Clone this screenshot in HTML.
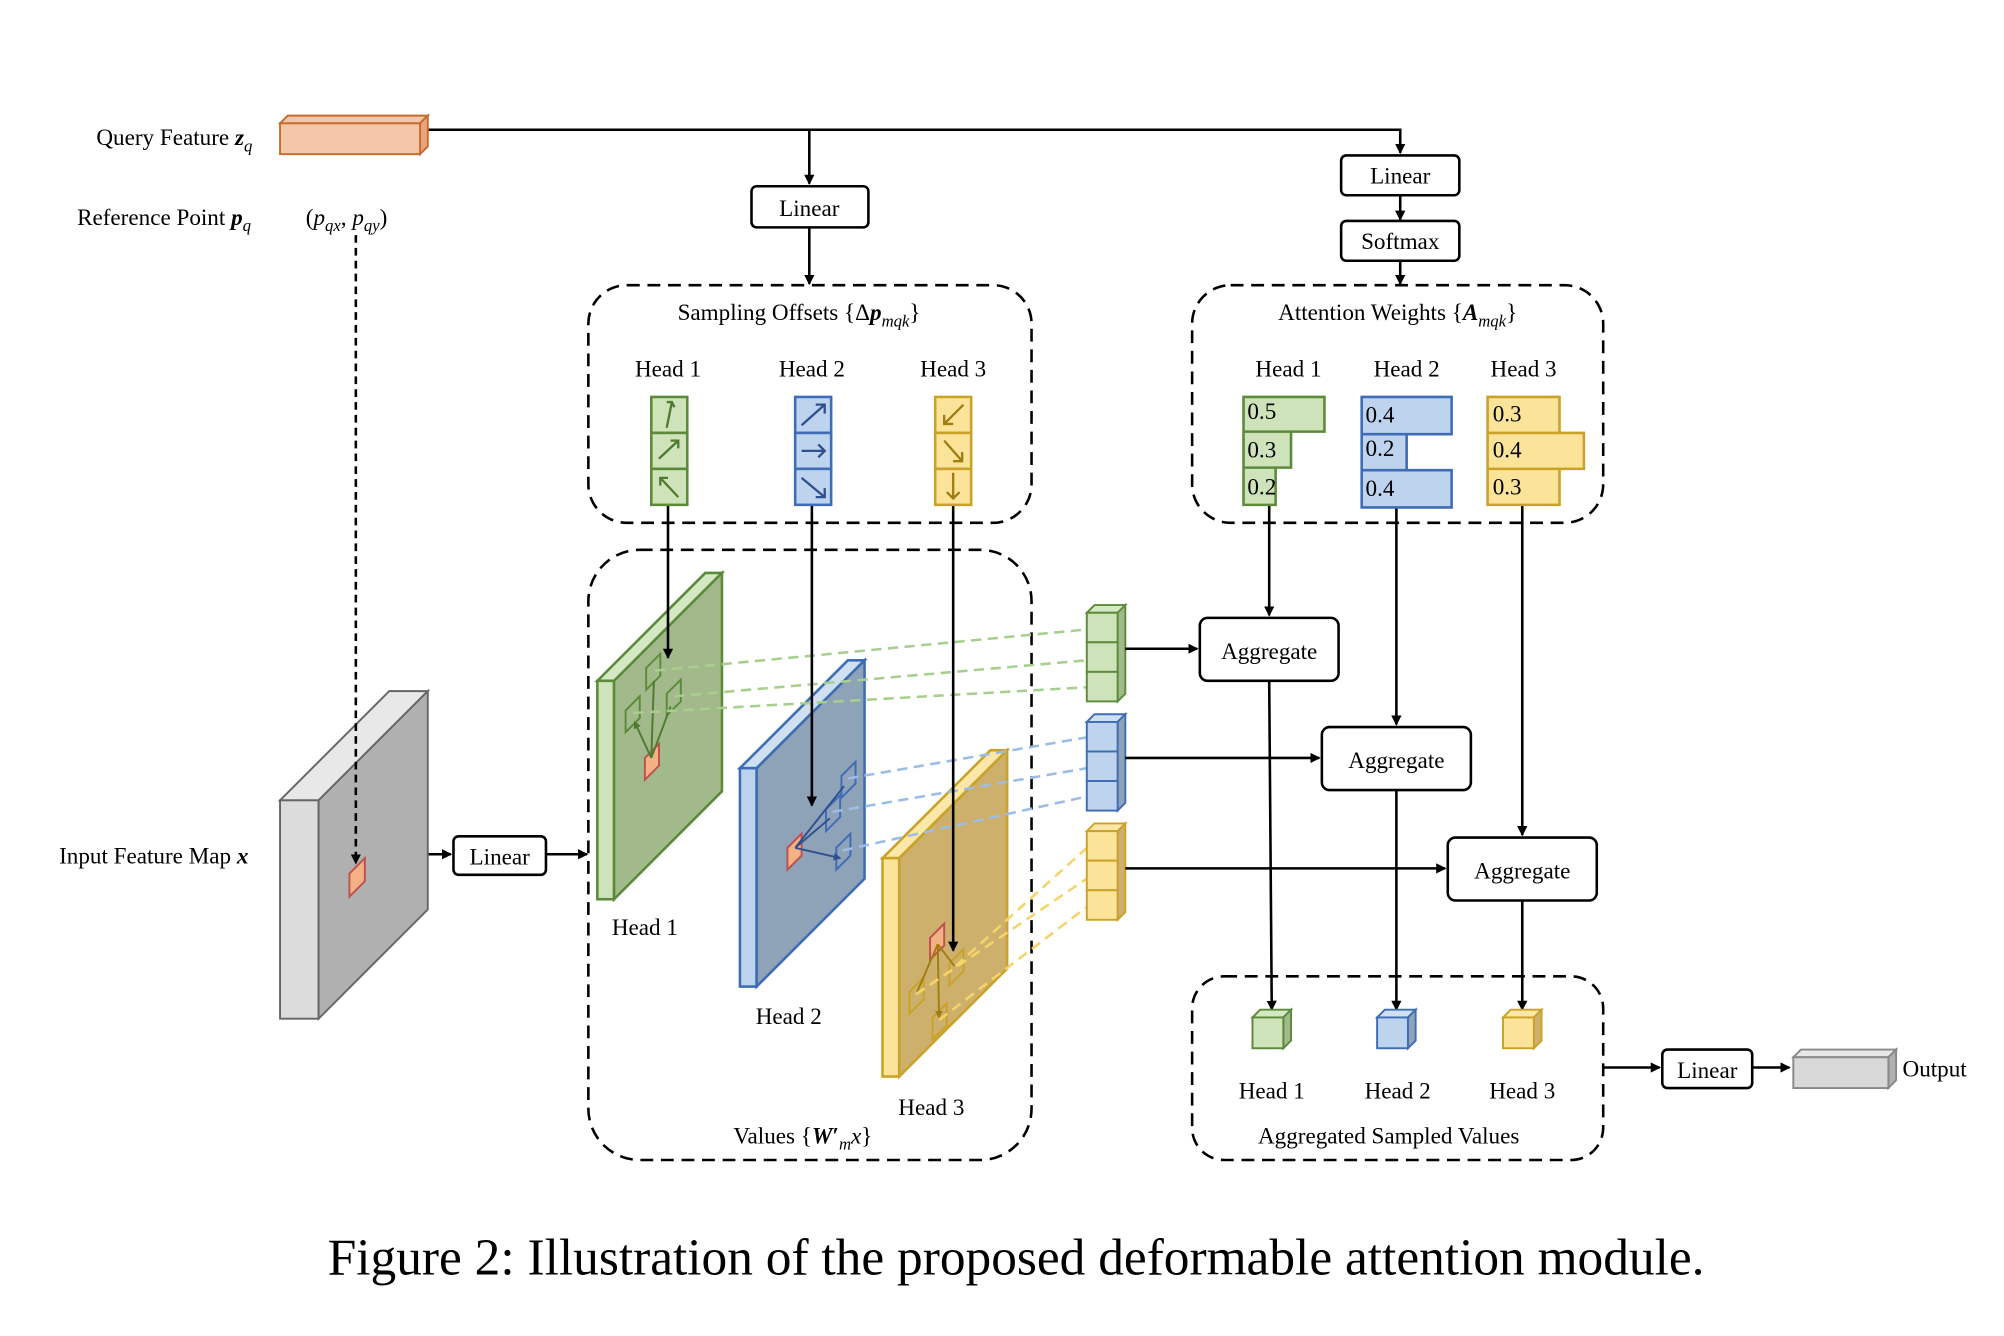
<!DOCTYPE html>
<html><head><meta charset="utf-8"><style>
html,body{margin:0;padding:0;background:#fff;}
svg{display:block;}
text{font-family:"Liberation Serif",serif;font-size:18px;fill:#000;}
</style></head><body>
<svg width="2004" height="1336" viewBox="0 0 1560 1040" xmlns="http://www.w3.org/2000/svg">
<defs>
<marker id="a" markerWidth="8" markerHeight="8" refX="7" refY="4" orient="auto" markerUnits="userSpaceOnUse"><path d="M0,0 L8,4 L0,8 z" fill="#000"/></marker>
<marker id="g" markerWidth="6" markerHeight="6" refX="5" refY="3" orient="auto" markerUnits="userSpaceOnUse"><path d="M0,0 L6,3 L0,6 z" fill="#4f7a30"/></marker>
<marker id="b" markerWidth="6" markerHeight="6" refX="5" refY="3" orient="auto" markerUnits="userSpaceOnUse"><path d="M0,0 L6,3 L0,6 z" fill="#2f4f8f"/></marker>
<marker id="y" markerWidth="6" markerHeight="6" refX="5" refY="3" orient="auto" markerUnits="userSpaceOnUse"><path d="M0,0 L6,3 L0,6 z" fill="#a07d10"/></marker>
</defs>
<g stroke="#000" stroke-width="2" fill="none">
<path d="M333,101 H1090 V119" marker-end="url(#a)"/>
<path d="M630,101 V143" marker-end="url(#a)"/>
<path d="M630,177 V221" marker-end="url(#a)"/>
<path d="M1090,152 V171" marker-end="url(#a)"/>
<path d="M1090,203 V221" marker-end="url(#a)"/>
<rect x="458" y="222" width="345" height="185" rx="30" stroke-dasharray="10,6"/>
<rect x="928" y="222" width="320" height="185" rx="30" stroke-dasharray="10,6"/>
<rect x="458" y="428" width="345" height="475" rx="40" stroke-dasharray="10,6"/>
<rect x="928" y="760" width="320" height="143" rx="25" stroke-dasharray="10,6"/>
<rect x="585" y="145" width="91" height="32" rx="4"/>
<rect x="1044" y="121" width="92" height="31" rx="4"/>
<rect x="1044" y="172" width="92" height="31" rx="4"/>
<rect x="353" y="651" width="72" height="30" rx="4"/>
<rect x="934" y="481" width="108" height="49" rx="6"/>
<rect x="1029" y="566" width="116" height="49" rx="6"/>
<rect x="1127" y="652" width="116" height="49" rx="6"/>
<rect x="1294" y="817" width="70" height="30" rx="4"/>
<path d="M302,665 H351" marker-end="url(#a)"/>
<path d="M425,665 H457" marker-end="url(#a)"/>
<path d="M1248,831 H1292" marker-end="url(#a)"/>
<path d="M1364,831 H1393" marker-end="url(#a)"/>
</g>
<polygon points="218,96 224,90 333,90 327,96" fill="#f4c7a8" stroke="#c96a2e" stroke-width="1.5"/>
<polygon points="327,96 333,90 333,114 327,120" fill="#e9a57f" stroke="#c96a2e" stroke-width="1.5"/>
<rect x="218" y="96" width="109" height="24" fill="#f4c7a8" stroke="#c96a2e" stroke-width="1.5"/>
<polygon points="218,623 303,538 333,538 248,623" fill="#e8e8e8" stroke="#666" stroke-width="1.5"/>
<rect x="218" y="623" width="30" height="170" fill="#dcdcdc" stroke="#666" stroke-width="1.5"/>
<polygon points="248,623 333,538 333,708 248,793" fill="#b0b0b0" stroke="#666" stroke-width="1.5"/>
<polygon points="272,680 284,668 284,686 272,698" fill="#f4b183" stroke="#c0504d" stroke-width="1.5"/>
<path d="M277,183 V672" stroke="#000" stroke-width="2" fill="none" stroke-dasharray="6,4" marker-end="url(#a)"/>
<g stroke-width="2">
<polygon points="465,530 549,446 562,446 478,530" fill="#d5e8c4" stroke="#5c8a3a"/>
<rect x="465" y="530" width="13" height="170" fill="#cfe3bb" stroke="#5c8a3a"/>
<polygon points="478,530 562,446 562,616 478,700" fill="#a2b98c" stroke="#5c8a3a"/>
<polygon points="576,598 660,514 673,514 589,598" fill="#cfe0f3" stroke="#3e6db5"/>
<rect x="576" y="598" width="13" height="170" fill="#bdd3ee" stroke="#3e6db5"/>
<polygon points="589,598 673,514 673,684 589,768" fill="#8ea2b8" stroke="#3e6db5"/>
<polygon points="687,668 771,584 784,584 700,668" fill="#fbe7a8" stroke="#c9a227"/>
<rect x="687" y="668" width="13" height="170" fill="#fbe39a" stroke="#c9a227"/>
<polygon points="700,668 784,584 784,754 700,838" fill="#cdb06c" stroke="#c9a227"/>
</g>
<g fill="none" stroke-width="1.5">
<polygon points="502,590 513,579 513,596 502,607" fill="#f4b183" stroke="#c0504d"/>
<polygon points="503,520 514,509 514,526 503,537" stroke="#5c8a3a"/>
<polygon points="519,540 530,529 530,546 519,557" stroke="#5c8a3a"/>
<polygon points="487,553 498,542 498,559 487,570" stroke="#5c8a3a"/>
<path d="M507,590 L509,530 M507,590 L522,550 M507,590 L494,562" stroke="#4f7a30" marker-end="url(#g)"/>
<polygon points="613,660 624,649 624,666 613,677" fill="#f4b183" stroke="#c0504d"/>
<polygon points="655,604 666,593 666,610 655,621" stroke="#3e6db5"/>
<polygon points="643,630 654,619 654,636 643,647" stroke="#3e6db5"/>
<polygon points="651,660 662,649 662,666 651,677" stroke="#3e6db5"/>
<path d="M619,660 L657,612 M619,660 L646,637 M619,660 L654,668" stroke="#2f4f8f" marker-end="url(#b)"/>
<polygon points="724,730 735,719 735,736 724,747" fill="#f4b183" stroke="#c0504d"/>
<polygon points="739,750 750,739 750,756 739,767" stroke="#c9a227"/>
<polygon points="708,772 719,761 719,778 708,789" stroke="#c9a227"/>
<polygon points="726,792 737,781 737,798 726,809" stroke="#c9a227"/>
<path d="M730,735 L743,752 M730,735 L714,772 M730,735 L731,792" stroke="#a07d10" marker-end="url(#y)"/>
</g>
<g stroke-width="2" stroke-dasharray="8,5">
<path d="M510,522 L846,490 M525,542 L846,514 M493,555 L846,535" stroke="#a9cf8e"/>
<path d="M660,606 L846,574 M648,632 L846,598 M656,662 L846,620" stroke="#9dbde6"/>
<path d="M744,752 L846,660 M713,774 L846,684 M731,794 L846,706" stroke="#f5d56a"/>
</g>
<g stroke-width="1.5">
<polygon points="846,477 852,471 876,471 870,477" fill="#d5e8c4" stroke="#5c8a3a"/>
<polygon points="870,477 876,471 876,540 870,546" fill="#a2b98c" stroke="#5c8a3a"/>
<rect x="846" y="477" width="24" height="23" fill="#cfe3bb" stroke="#5c8a3a"/><rect x="846" y="500" width="24" height="23" fill="#cfe3bb" stroke="#5c8a3a"/><rect x="846" y="523" width="24" height="23" fill="#cfe3bb" stroke="#5c8a3a"/>
<polygon points="846,562 852,556 876,556 870,562" fill="#cfe0f3" stroke="#3e6db5"/>
<polygon points="870,562 876,556 876,625 870,631" fill="#8ea2b8" stroke="#3e6db5"/>
<rect x="846" y="562" width="24" height="23" fill="#bdd3ee" stroke="#3e6db5"/><rect x="846" y="585" width="24" height="23" fill="#bdd3ee" stroke="#3e6db5"/><rect x="846" y="608" width="24" height="23" fill="#bdd3ee" stroke="#3e6db5"/>
<polygon points="846,647 852,641 876,641 870,647" fill="#fbe7a8" stroke="#c9a227"/>
<polygon points="870,647 876,641 876,710 870,716" fill="#cdb06c" stroke="#c9a227"/>
<rect x="846" y="647" width="24" height="23" fill="#fbe39a" stroke="#c9a227"/><rect x="846" y="670" width="24" height="23" fill="#fbe39a" stroke="#c9a227"/><rect x="846" y="693" width="24" height="23" fill="#fbe39a" stroke="#c9a227"/>
</g>
<g stroke="#000" stroke-width="2" fill="none">
<path d="M876,505 H932" marker-end="url(#a)"/>
<path d="M876,590 H1027" marker-end="url(#a)"/>
<path d="M876,676 H1125" marker-end="url(#a)"/>
<path d="M988,393 V479" marker-end="url(#a)"/>
<path d="M1087,395 V564" marker-end="url(#a)"/>
<path d="M1185,393 V650" marker-end="url(#a)"/>
<path d="M988,530 L990,786" marker-end="url(#a)"/>
<path d="M1087,615 V786" marker-end="url(#a)"/>
<path d="M1185,701 V786" marker-end="url(#a)"/>
<path d="M520,393 V512" marker-end="url(#a)"/>
<path d="M632,393 V627" marker-end="url(#a)"/>
<path d="M742,393 V740" marker-end="url(#a)"/>
</g>
<g stroke-width="2">
<rect x="507" y="309" width="28" height="28" fill="#cfe3bb" stroke="#5c8a3a"/><rect x="507" y="337" width="28" height="28" fill="#cfe3bb" stroke="#5c8a3a"/><rect x="507" y="365" width="28" height="28" fill="#cfe3bb" stroke="#5c8a3a"/>
<rect x="619" y="309" width="28" height="28" fill="#bdd3ee" stroke="#3e6db5"/><rect x="619" y="337" width="28" height="28" fill="#bdd3ee" stroke="#3e6db5"/><rect x="619" y="365" width="28" height="28" fill="#bdd3ee" stroke="#3e6db5"/>
<rect x="728" y="309" width="28" height="28" fill="#fbe39a" stroke="#c9a227"/><rect x="728" y="337" width="28" height="28" fill="#fbe39a" stroke="#c9a227"/><rect x="728" y="365" width="28" height="28" fill="#fbe39a" stroke="#c9a227"/>
</g>
<g stroke-width="1.8" fill="none">
<path d="M519,333 L523,313 M519,313 L523,313 L525,317 M513,357 L528,343 M522,343 L528,343 L528,349 M528,387 L514,372 M514,378 L514,372 L520,372" stroke="#4f7a30"/>
<path d="M624,331 L642,315 M635,315 L642,315 L642,322 M624,351 L642,351 M637,346 L642,351 L637,356 M624,372 L642,387 M635,387 L642,387 L642,380" stroke="#2f4f8f"/>
<path d="M750,315 L735,330 M735,323 L735,330 L742,330 M735,343 L749,359 M749,352 L749,359 L742,359 M742,368 L742,388 M737,383 L742,388 L747,383" stroke="#a07d10"/>
</g>
<g stroke-width="2">
<path d="M968,309 H1031 V336 H1005 V364 H993 V393 H968 Z" fill="#cfe3bb" stroke="#5c8a3a"/>
<path d="M968,336 H1005 M968,364 H993" stroke="#5c8a3a"/>
<path d="M1060,309 H1130 V338 H1095 V366 H1130 V395 H1060 Z" fill="#bdd3ee" stroke="#3e6db5"/>
<path d="M1060,338 H1095 M1060,366 H1095" stroke="#3e6db5"/>
<path d="M1158,309 H1214 V337 H1233 V365 H1214 V393 H1158 Z" fill="#fbe39a" stroke="#c9a227"/>
<path d="M1158,337 H1214 M1158,365 H1214" stroke="#c9a227"/>
</g>
<g style="font-size:14px">
<text x="971" y="326">0.5</text><text x="971" y="356">0.3</text><text x="971" y="385">0.2</text>
<text x="1063" y="329">0.4</text><text x="1063" y="355">0.2</text><text x="1063" y="386">0.4</text>
<text x="1162" y="328">0.3</text><text x="1162" y="356">0.4</text><text x="1162" y="385">0.3</text>
</g>
<g stroke-width="1.5">
<polygon points="975,792 981,786 1005,786 999,792" fill="#d5e8c4" stroke="#5c8a3a"/><polygon points="999,792 1005,786 1005,810 999,816" fill="#a2b98c" stroke="#5c8a3a"/><rect x="975" y="792" width="24" height="24" fill="#cfe3bb" stroke="#5c8a3a"/>
<polygon points="1072,792 1078,786 1102,786 1096,792" fill="#cfe0f3" stroke="#3e6db5"/><polygon points="1096,792 1102,786 1102,810 1096,816" fill="#8ea2b8" stroke="#3e6db5"/><rect x="1072" y="792" width="24" height="24" fill="#bdd3ee" stroke="#3e6db5"/>
<polygon points="1170,792 1176,786 1200,786 1194,792" fill="#fbe7a8" stroke="#c9a227"/><polygon points="1194,792 1200,786 1200,810 1194,816" fill="#cdb06c" stroke="#c9a227"/><rect x="1170" y="792" width="24" height="24" fill="#fbe39a" stroke="#c9a227"/>
<polygon points="1396,823 1402,817 1476,817 1470,823" fill="#e8e8e8" stroke="#888"/><polygon points="1470,823 1476,817 1476,841 1470,847" fill="#b0b0b0" stroke="#888"/><rect x="1396" y="823" width="74" height="24" fill="#d8d8d8" stroke="#888"/>
</g>
<text x="75" y="113">Query Feature <tspan font-weight="bold" font-style="italic">z</tspan><tspan font-style="italic" font-size="13" dy="5">q</tspan></text>
<text x="60" y="175">Reference Point <tspan font-weight="bold" font-style="italic">p</tspan><tspan font-style="italic" font-size="13" dy="5">q</tspan></text>
<text x="238" y="175">(<tspan font-style="italic">p</tspan><tspan font-style="italic" font-size="13" dy="5">qx</tspan><tspan dy="-5">, </tspan><tspan font-style="italic">p</tspan><tspan font-style="italic" font-size="13" dy="5">qy</tspan><tspan dy="-5">)</tspan></text>
<text x="46" y="672">Input Feature Map <tspan font-weight="bold" font-style="italic">x</tspan></text>
<g text-anchor="middle">
<text x="630" y="168">Linear</text>
<text x="1090" y="143">Linear</text>
<text x="1090" y="194">Softmax</text>
<text x="389" y="673">Linear</text>
<text x="1329" y="839">Linear</text>
<text x="988" y="513">Aggregate</text>
<text x="1087" y="598">Aggregate</text>
<text x="1185" y="684">Aggregate</text>
<text x="622" y="249">Sampling Offsets {Δ<tspan font-weight="bold" font-style="italic">p</tspan><tspan font-style="italic" font-size="13" dy="5">mqk</tspan><tspan dy="-5">}</tspan></text>
<text x="1088" y="249">Attention Weights {<tspan font-weight="bold" font-style="italic">A</tspan><tspan font-style="italic" font-size="13" dy="5">mqk</tspan><tspan dy="-5">}</tspan></text>
<text x="520" y="293">Head 1</text><text x="632" y="293">Head 2</text><text x="742" y="293">Head 3</text>
<text x="1003" y="293">Head 1</text><text x="1095" y="293">Head 2</text><text x="1186" y="293">Head 3</text>
<text x="502" y="728">Head 1</text><text x="614" y="797">Head 2</text><text x="725" y="868">Head 3</text>
<text x="625" y="890">Values {<tspan font-weight="bold" font-style="italic">W</tspan><tspan font-weight="bold">′</tspan><tspan font-style="italic" font-size="13" dy="5">m</tspan><tspan font-style="italic" dy="-5">x</tspan>}</text>
<text x="990" y="855">Head 1</text><text x="1088" y="855">Head 2</text><text x="1185" y="855">Head 3</text>
<text x="1081" y="890">Aggregated Sampled Values</text>
<text x="791" y="992" style="font-size:40px">Figure 2: Illustration of the proposed deformable attention module.</text>
</g>
<text x="1481" y="838">Output</text>
</svg>
</body></html>
